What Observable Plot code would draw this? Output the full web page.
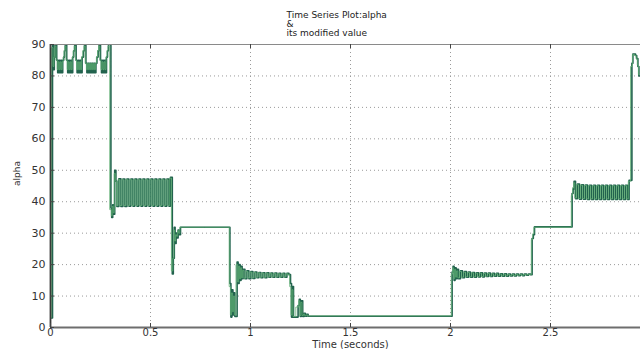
<!DOCTYPE html>
<html>
<head>
<meta charset="utf-8">
<script src="https://cdn.jsdelivr.net/npm/d3@7"></script>
<script src="https://cdn.jsdelivr.net/npm/@observablehq/plot@0.6"></script>
<style>
  html, body { margin: 0; padding: 0; background: #fff; overflow: hidden; }
  #chart svg { display: block; max-width: none; }
</style>
</head>
<body>
<div id="chart"></div>
<script>
// Sample times (seconds) of the switching signal
const time = [
  0.000, 0.010, 0.015, 0.019, 0.024, 0.031, 0.036, 0.041, 0.046, 0.051,
  0.056, 0.061, 0.066, 0.070, 0.074, 0.081, 0.086, 0.091, 0.096, 0.101,
  0.106, 0.111, 0.116, 0.121, 0.128, 0.133, 0.138, 0.143, 0.148, 0.153,
  0.158, 0.165, 0.170, 0.177, 0.182, 0.187, 0.192, 0.197, 0.202, 0.207,
  0.212, 0.217, 0.222, 0.227, 0.232, 0.238, 0.243, 0.250, 0.255, 0.260,
  0.265, 0.270, 0.275, 0.280, 0.285, 0.290,
  0.302, 0.306, 0.311, 0.316, 0.321, 0.327, 0.332, 0.342, 0.352, 0.362,
  0.372, 0.382, 0.392, 0.402, 0.412, 0.422, 0.432, 0.442, 0.452, 0.462,
  0.472, 0.482, 0.492, 0.502, 0.512, 0.522, 0.532, 0.542, 0.552, 0.562,
  0.572, 0.582, 0.592, 0.600,
  0.609, 0.614, 0.619, 0.623, 0.628, 0.633, 0.638, 0.643, 0.650, 0.890, 0.897,
  0.902, 0.907, 0.912, 0.917, 0.922, 0.933, 0.938, 0.943, 0.948, 0.953,
  0.958, 0.963, 0.972, 0.982, 0.992, 1.002, 1.012, 1.022, 1.032, 1.042,
  1.052, 1.062, 1.072, 1.082, 1.092, 1.102, 1.112, 1.122, 1.132, 1.142,
  1.152, 1.162, 1.172, 1.182, 1.192, 1.200, 1.205, 1.210, 1.215, 1.238,
  1.244, 1.249, 1.254, 1.261, 1.268, 1.274, 1.281, 1.288, 2.000,
  2.008, 2.013, 2.018, 2.023, 2.028, 2.033, 2.040, 2.050, 2.060, 2.070,
  2.080, 2.090, 2.100, 2.110, 2.120, 2.130, 2.140, 2.150, 2.160, 2.170,
  2.180, 2.190, 2.200, 2.210, 2.220, 2.230, 2.240, 2.250, 2.260, 2.270,
  2.280, 2.290, 2.300, 2.310, 2.320, 2.330, 2.340, 2.350, 2.360, 2.370,
  2.380, 2.390, 2.400,
  2.408, 2.414, 2.420, 2.600, 2.608, 2.613, 2.618, 2.625, 2.635, 2.645, 2.655,
  2.665, 2.675, 2.685, 2.695, 2.705, 2.715, 2.725, 2.735, 2.745, 2.755,
  2.765, 2.775, 2.785, 2.795, 2.805, 2.815, 2.825, 2.835, 2.845, 2.855,
  2.865, 2.875, 2.885, 2.893, 2.907, 2.912, 2.925, 2.931, 2.937, 2.942,
  2.950
];

// alpha (degrees) at each sample time
const alpha = [
  3, 90, 82, 86, 90, 85, 81, 85, 81, 85,
  81, 85, 86, 88, 90, 85, 81, 85, 81, 85,
  81, 86, 88, 90, 85, 81, 85, 81, 85, 81,
  86, 88, 90, 84, 81, 84, 81, 84, 81, 84,
  81, 84, 81, 84, 86, 88, 90, 85, 81, 85,
  81, 85, 81, 86, 88, 90,
  38, 35, 39, 36, 50, 46.5, 38.5, 47.3, 38.5, 47.2,
  38.5, 47.2, 38.6, 47.2, 38.6, 47.2, 38.6, 47.2, 38.6, 47.2,
  38.6, 47.2, 38.6, 47.2, 38.6, 47.2, 38.6, 47.2, 38.6, 47.2,
  38.6, 47.2, 38.6, 47.8,
  17, 22, 31.9, 26.7, 30, 28.5, 31, 29.5, 31.9, 31.9, 14,
  3.3, 12, 4, 11, 3.5, 20.8, 14, 20, 15, 19.5,
  15.5, 18.5, 15.5, 18, 15.5, 17.8, 15.6, 17.6, 15.8, 17.5,
  15.8, 17.4, 15.8, 17.4, 16, 17.3, 16, 17.3, 16, 17.2,
  16, 17.2, 16, 17.2, 16.8, 14, 3.3, 13, 3.3, 7,
  9, 3.5, 8.5, 3.5, 4.5, 3.6, 4.2, 3.6, 3.6,
  17.6, 19.5, 15, 19, 15.5, 18.5, 15.5, 18, 15.8, 17.8,
  16, 17.6, 16, 17.5, 16, 17.4, 16.1, 17.4, 16.1, 17.3,
  16.2, 17.3, 16.2, 17.2, 16.3, 17.2, 16.3, 17.1, 16.3, 17.1,
  16.3, 17, 16.4, 17, 16.4, 17, 16.5, 17, 16.5, 17,
  16.6, 17, 16.8,
  28.3, 29.5, 32, 32, 42.6, 44, 46.5, 41, 45.6, 40.8, 45.4,
  40.8, 45.3, 40.7, 45.2, 40.7, 45.2, 40.7, 45.2, 40.7, 45.2,
  40.7, 45.2, 40.7, 45.2, 40.7, 45.2, 40.7, 45.2, 40.7, 45.2,
  40.7, 45.2, 40.7, 46.8, 84, 87, 86.5, 85.5, 83, 80,
  80
];

// modified alpha at each sample time
const modified = [
  3, 89, 83, 86, 89.5, 85, 82, 84.5, 82, 84.5,
  82, 84.5, 86, 88, 89.5, 85, 82, 84.5, 82, 84.5,
  82, 86, 88, 89.5, 85, 82, 84.5, 82, 84.5, 82,
  86, 88, 89.5, 84, 82, 84, 82, 84, 82, 84,
  82, 84, 82, 84, 86, 88, 89.5, 85, 82, 84.5,
  82, 84.5, 82, 86, 88, 89.5,
  37.5, 35.5, 38.5, 36.5, 49, 46.5, 38.8, 47, 38.8, 47,
  38.8, 47, 38.8, 47, 38.8, 47, 38.8, 47, 38.8, 47,
  38.8, 47, 38.8, 47, 38.8, 47, 38.8, 47, 38.8, 47,
  38.8, 47, 38.8, 47.5,
  18, 22, 31, 27.5, 29.5, 29, 30.8, 30, 31.9, 31.9, 13,
  4, 11, 5, 10, 4, 20, 14.5, 19.5, 15.5, 19,
  15.8, 18.2, 15.7, 17.8, 15.8, 17.6, 15.8, 17.5, 16, 17.4,
  16, 17.3, 16, 17.3, 16.1, 17.2, 16.1, 17.2, 16.1, 17.1,
  16.1, 17.1, 16.1, 17.1, 16.8, 13, 4, 12, 3.5, 6.5,
  8.5, 3.8, 8, 3.8, 4.3, 3.7, 4, 3.7, 3.7,
  17, 19, 15.5, 18.5, 16, 18, 15.8, 17.8, 16, 17.6,
  16.1, 17.5, 16.1, 17.4, 16.1, 17.3, 16.2, 17.3, 16.2, 17.2,
  16.3, 17.2, 16.3, 17.1, 16.4, 17.1, 16.4, 17, 16.4, 17,
  16.4, 16.9, 16.5, 16.9, 16.5, 16.9, 16.6, 16.9, 16.6, 16.9,
  16.7, 16.9, 16.8,
  28, 29.8, 31.9, 31.9, 42, 44.5, 46, 41.2, 45.4, 41, 45.3,
  41, 45.2, 40.9, 45.1, 40.9, 45.1, 40.9, 45.1, 40.9, 45.1,
  40.9, 45.1, 40.9, 45.1, 40.9, 45.1, 40.9, 45.1, 40.9, 45.1,
  40.9, 45.1, 40.9, 46.5, 83, 86.8, 86.5, 85.5, 83.5, 80.5,
  80.5
];

const xTicks = [0, 0.5, 1, 1.5, 2, 2.5, 3];
const xTickLabels = [0, 0.5, 1, 1.5, 2, 2.5];
const yTicks = [0, 10, 20, 30, 40, 50, 60, 70, 80, 90];
const titleLines = ["Time Series Plot:alpha", "&", "its modified value"];
const xLabel = "Time (seconds)";
const yLabel = "alpha";

const rows = time.map((t, i) => ({t, alpha: alpha[i], modified: modified[i]}));

const W = 660, H = 349, mL = 50, mR = 10, mT = 44, mB = 22;
const frameW = W - mL - mR, frameH = H - mT - mB;
const tick = 4;

const chart = Plot.plot({
  width: W,
  height: H,
  marginLeft: mL,
  marginRight: mR,
  marginTop: mT,
  marginBottom: mB,
  style: {fontFamily: "'DejaVu Sans', sans-serif", color: "#333", background: "#fff"},
  x: {domain: [0, 3]},
  y: {domain: [0, 90]},
  marks: [
    Plot.gridX(xTicks, {stroke: "#9a9a9a", strokeOpacity: 1, strokeDasharray: "1,3"}),
    Plot.gridY(yTicks, {stroke: "#9a9a9a", strokeOpacity: 1, strokeDasharray: "1,3"}),
    Plot.line(rows, {x: "t", y: "alpha", curve: "step-after", stroke: "#22634e", strokeWidth: 1.6, clip: true}),
    Plot.line(rows, {x: "t", y: "modified", curve: "step", stroke: "#5fae74", strokeWidth: 0.8, clip: true}),
    // frame lines
    Plot.ruleY([90], {stroke: "#8a8a8a", strokeWidth: 1.2}),
    Plot.ruleY([0], {stroke: "#6e6e6e", strokeWidth: 2.2}),
    Plot.ruleX([0], {stroke: "#3a3a3a", strokeWidth: 1.8}),
    // inward tick marks
    Plot.ruleX(xTicks, {insetTop: frameH - tick, stroke: "#444"}),
    Plot.ruleX(xTicks, {insetBottom: frameH - tick, stroke: "#444"}),
    Plot.ruleY(yTicks, {insetRight: frameW - tick, stroke: "#444"}),
    Plot.axisX(xTickLabels, {tickSize: 0, tickPadding: 1.5, fontSize: 10, label: null, tickFormat: d => String(d)}),
    Plot.axisY(yTicks, {tickSize: 0, tickPadding: 5, fontSize: 11, label: null, tickFormat: d => String(d)}),
    Plot.text([xLabel], {frameAnchor: "bottom", dy: 17, fontSize: 10, lineAnchor: "middle", fill: "#333"}),
    Plot.text([yLabel], {frameAnchor: "left", dx: -33, rotate: -90, fontSize: 9, lineAnchor: "middle", fill: "#333"}),
    Plot.text([titleLines[0]], {frameAnchor: "top-left", dx: 236, dy: -29, fontSize: 9, lineAnchor: "middle", fill: "#222"}),
    Plot.text([titleLines[1]], {frameAnchor: "top-left", dx: 236, dy: -20, fontSize: 9, lineAnchor: "middle", fill: "#222"}),
    Plot.text([titleLines[2]], {frameAnchor: "top-left", dx: 236, dy: -11, fontSize: 9, lineAnchor: "middle", fill: "#222"})
  ]
});
chart.style.maxWidth = "none";
document.getElementById("chart").appendChild(chart);
</script>
</body>
</html>
